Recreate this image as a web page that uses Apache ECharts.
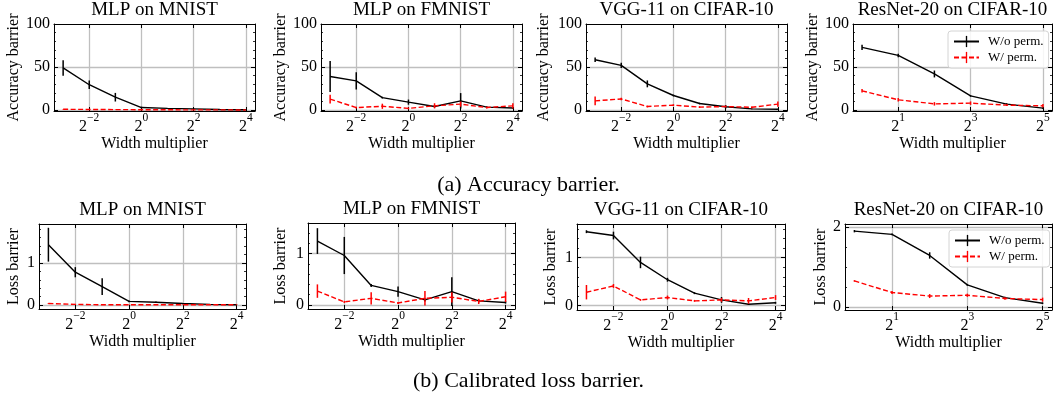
<!DOCTYPE html>
<html>
<head>
<meta charset="utf-8">
<script src="https://cdn.jsdelivr.net/npm/echarts@6/dist/echarts.min.js"></script>
<style>
  html, body { margin: 0; padding: 0; background: #fff; }
  #chart { width: 1057px; height: 395px; }
</style>
</head>
<body>
<div id="chart"></div>
<script>
const FONT = 'Liberation Serif';

// Width multipliers on the x axis
const widthsSmall = [0.125, 0.25, 0.5, 1, 2, 4, 8, 16];
const widthsResNet = [1, 2, 4, 8, 16, 32];

const panelTitles = ['MLP on MNIST', 'MLP on FMNIST', 'VGG-11 on CIFAR-10', 'ResNet-20 on CIFAR-10'];
const seriesNames = ['W/o perm.', 'W/ perm.'];
const captions = ['(a) Accuracy barrier.', '(b) Calibrated loss barrier.'];

// Tick positions (x given as powers of two)
const xTickExpSmall = [-2, 0, 2, 4];
const xTickExpResNet = [1, 3, 5];
const accTicks = [0, 50, 100];
const accMinorTicks = [10, 20, 30, 40, 60, 70, 80, 90];
const lossTicks = [0, 1];
const lossMinorTicks = [0.2, 0.4, 0.6, 0.8, 1.2, 1.4, 1.6, 1.8];
const lossTicksResNet = [0, 2];
const lossMinorTicksResNet = [0.5, 1, 1.5];

// Accuracy barrier (%), mean and error
const accMnistWo = [49, 29.5, 15, 3, 2, 1.5, 0.8, 0.5];
const accMnistWoErr = [9, 5, 5, 1, 0.5, 0.3, 0.2, 0.2];
const accMnistW = [1, 0.8, 0.6, 0.5, 0.4, 0.3, 0.3, 0.2];
const accMnistWErr = [0.3, 0.2, 0.2, 0.2, 0.1, 0.1, 0.1, 0.1];

const accFmnistWo = [39, 34, 14.5, 9.3, 4.2, 10.8, 3.5, 2.5];
const accFmnistWoErr = [18, 10, 1, 3, 1, 9, 1, 1];
const accFmnistW = [12.8, 3, 4.5, 2, 5, 7, 3, 5];
const accFmnistWErr = [5, 1, 3, 1, 3, 3, 1, 3];

const accVggWo = [58.5, 52, 30.5, 17, 7.7, 3.9, 1.5, 1];
const accVggWoErr = [2.5, 3, 4, 1, 1, 2, 0.5, 0.5];
const accVggW = [10.8, 13, 4.2, 5.8, 3.5, 4.2, 3.3, 7];
const accVggWErr = [5, 1.5, 1, 1, 1, 1, 1, 3];

const accResnetWo = [72.8, 63.5, 42, 16.6, 7, 2.3];
const accResnetWoErr = [3, 2, 4, 1, 1, 1];
const accResnetW = [22.4, 12, 7.3, 8.1, 5.8, 5];
const accResnetWErr = [2, 2, 2, 2, 1, 2];

// Calibrated loss barrier, mean and error
const lossMnistWo = [1.43, 0.78, 0.44, 0.09, 0.07, 0.04, 0.02, 0.01];
const lossMnistWoErr = [0.4, 0.12, 0.2, 0.02, 0.02, 0.01, 0.01, 0.005];
const lossMnistW = [0.04, 0.02, 0.01, 0.01, 0.01, 0.01, 0.01, 0.01];
const lossMnistWErr = [0.01, 0.01, 0.005, 0.005, 0.005, 0.005, 0.005, 0.005];

const lossFmnistWo = [1.24, 0.96, 0.38, 0.26, 0.1, 0.26, 0.08, 0.05];
const lossFmnistWoErr = [0.25, 0.36, 0.03, 0.1, 0.03, 0.28, 0.03, 0.02];
const lossFmnistW = [0.27, 0.06, 0.13, 0.04, 0.13, 0.15, 0.07, 0.16];
const lossFmnistWErr = [0.13, 0.02, 0.12, 0.02, 0.14, 0.1, 0.05, 0.1];

const lossVggWo = [1.54, 1.46, 0.9, 0.54, 0.26, 0.12, 0.03, 0.06];
const lossVggWoErr = [0.03, 0.08, 0.12, 0.04, 0.02, 0.06, 0.01, 0.02];
const lossVggW = [0.28, 0.41, 0.12, 0.17, 0.1, 0.12, 0.1, 0.17];
const lossVggWErr = [0.15, 0.04, 0.02, 0.04, 0.02, 0.04, 0.06, 0.05];

const lossResnetWo = [1.9, 1.82, 1.29, 0.55, 0.23, 0.09];
const lossResnetWoErr = [0.03, 0.02, 0.08, 0.02, 0.02, 0.02];
const lossResnetW = [0.65, 0.36, 0.27, 0.29, 0.21, 0.18];
const lossResnetWErr = [0.02, 0.04, 0.05, 0.04, 0.03, 0.05];

// Panel layout: plot rectangles, limits and tick sets
const panels = [
  { rect: [54, 24, 201, 87], title: panelTitles[0], widths: widthsSmall, xTicks: xTickExpSmall,
    wo: accMnistWo, woErr: accMnistWoErr, w: accMnistW, wErr: accMnistWErr,
    yLabels: accTicks, yGrid: [0, 50], yMinor: accMinorTicks, ylim: [-1, 100], yName: 'Accuracy barrier', nameGap: 32 },
  { rect: [321, 24, 201, 87], title: panelTitles[1], widths: widthsSmall, xTicks: xTickExpSmall,
    wo: accFmnistWo, woErr: accFmnistWoErr, w: accFmnistW, wErr: accFmnistWErr,
    yLabels: accTicks, yGrid: [0, 50], yMinor: accMinorTicks, ylim: [-1, 100], yName: 'Accuracy barrier', nameGap: 32 },
  { rect: [586, 24, 201, 87], title: panelTitles[2], widths: widthsSmall, xTicks: xTickExpSmall,
    wo: accVggWo, woErr: accVggWoErr, w: accVggW, wErr: accVggWErr,
    yLabels: accTicks, yGrid: [0, 50], yMinor: accMinorTicks, ylim: [-1, 100], yName: 'Accuracy barrier', nameGap: 34 },
  { rect: [853, 24, 199, 87], title: panelTitles[3], widths: widthsResNet, xTicks: xTickExpResNet,
    wo: accResnetWo, woErr: accResnetWoErr, w: accResnetW, wErr: accResnetWErr,
    yLabels: accTicks, yGrid: [0, 50], yMinor: accMinorTicks, ylim: [-1, 100], yName: 'Accuracy barrier', nameGap: 29 },
  { rect: [39, 224, 207, 85], title: panelTitles[0], widths: widthsSmall, xTicks: xTickExpSmall,
    wo: lossMnistWo, woErr: lossMnistWoErr, w: lossMnistW, wErr: lossMnistWErr,
    yLabels: lossTicks, yGrid: lossTicks, yMinor: lossMinorTicks, ylim: [-0.09, 1.92], yName: 'Loss barrier', nameGap: 17 },
  { rect: [308, 223, 207, 86], title: panelTitles[1], widths: widthsSmall, xTicks: xTickExpSmall,
    wo: lossFmnistWo, woErr: lossFmnistWoErr, w: lossFmnistW, wErr: lossFmnistWErr,
    yLabels: lossTicks, yGrid: lossTicks, yMinor: lossMinorTicks, ylim: [-0.077, 1.59], yName: 'Loss barrier', nameGap: 19 },
  { rect: [577, 224, 208, 86], title: panelTitles[2], widths: widthsSmall, xTicks: xTickExpSmall,
    wo: lossVggWo, woErr: lossVggWoErr, w: lossVggW, wErr: lossVggWErr,
    yLabels: lossTicks, yGrid: lossTicks, yMinor: lossMinorTicks, ylim: [-0.09, 1.70], yName: 'Loss barrier', nameGap: 18 },
  { rect: [845, 224, 207, 86], title: panelTitles[3], widths: widthsResNet, xTicks: xTickExpResNet,
    wo: lossResnetWo, woErr: lossResnetWoErr, w: lossResnetW, wErr: lossResnetWErr,
    yLabels: lossTicksResNet, yGrid: lossTicksResNet, yMinor: lossMinorTicksResNet, ylim: [-0.08, 2.08], yName: 'Loss barrier', nameGap: 16 }
];

const BLACK = '#000000';
const RED = '#ff0000';
const GRID_COLOR = '#bfbfbf';
// Legend marker: a thin vertical bar (error-bar style) inside a square box
const BAR_SYMBOL = 'path://M0,0L0,0M10,0L10,0M4.4,0L5.6,0L5.6,10L4.4,10Z';

const grids = [], xAxes = [], yAxes = [], series = [];

const supLabel = v => '{b|2}{s|' + (v < 0 ? '\u2212' + (-v) : String(v)) + '}';

function hiddenAxisBase(extra) {
  return Object.assign({
    type: 'value', axisLabel: { show: false }, splitLine: { show: false },
    axisLine: { show: false, onZero: false }, axisTick: { show: false }, silent: true
  }, extra);
}

panels.forEach((p, gi) => {
  grids.push({ left: p.rect[0], top: p.rect[1], width: p.rect[2], height: p.rect[3], show: false });

  const xs = p.widths.map(w => Math.log2(w));
  const span = xs[xs.length - 1] - xs[0];
  const xmin = xs[0] - 0.05 * span, xmax = xs[xs.length - 1] + 0.05 * span;

  const xMain = xAxes.length;
  // bottom axis: labels, major ticks, vertical grid lines
  xAxes.push(hiddenAxisBase({
    gridIndex: gi, position: 'bottom', min: xmin, max: xmax,
    axisLine: { show: true, onZero: false, lineStyle: { color: BLACK, width: 1 } },
    axisTick: { show: true, inside: true, length: 4, customValues: p.xTicks, lineStyle: { color: BLACK, width: 1 } },
    axisLabel: {
      show: true, customValues: p.xTicks, margin: 1, formatter: supLabel,
      rich: {
        b: { fontFamily: FONT, fontSize: 16, lineHeight: 23, verticalAlign: 'bottom', color: BLACK },
        s: { fontFamily: FONT, fontSize: 11.5, lineHeight: 8, verticalAlign: 'top', color: BLACK }
      }
    },
    splitLine: { show: true, lineStyle: { color: GRID_COLOR, width: 1.3 } },
    name: 'Width multiplier', nameLocation: 'middle', nameGap: 22,
    nameTextStyle: { fontFamily: FONT, fontSize: 16, color: BLACK }
  }));
  // top axis: frame, ticks and panel title
  xAxes.push(hiddenAxisBase({
    gridIndex: gi, position: 'top', min: xmin, max: xmax,
    axisLine: { show: true, onZero: false, lineStyle: { color: BLACK, width: 1 } },
    axisTick: { show: true, inside: true, length: 4, customValues: p.xTicks, lineStyle: { color: BLACK, width: 1 } },
    name: p.title, nameLocation: 'middle', nameGap: 4,
    nameTextStyle: { fontFamily: FONT, fontSize: 19, color: BLACK }
  }));

  const yMain = yAxes.length;
  const [ymin, ymax] = p.ylim;
  // left axis: labels, major ticks, horizontal grid lines
  yAxes.push(hiddenAxisBase({
    gridIndex: gi, position: 'left', min: ymin, max: ymax,
    axisLine: { show: true, onZero: false, lineStyle: { color: BLACK, width: 1 } },
    axisTick: { show: true, inside: true, length: 4, customValues: p.yGrid, lineStyle: { color: BLACK, width: 1 } },
    axisLabel: { show: true, customValues: p.yLabels, margin: 4, fontFamily: FONT, fontSize: 16, color: BLACK },
    splitLine: { show: true, lineStyle: { color: GRID_COLOR, width: 1.3 } },
    name: p.yName, nameLocation: 'middle', nameGap: p.nameGap,
    nameTextStyle: { fontFamily: FONT, fontSize: 16, color: BLACK }
  }));
  // left minor ticks
  yAxes.push(hiddenAxisBase({
    gridIndex: gi, position: 'left', min: ymin, max: ymax,
    axisTick: { show: true, inside: true, length: 2, customValues: p.yMinor, lineStyle: { color: BLACK, width: 0.8 } }
  }));
  // right frame with major and minor ticks
  yAxes.push(hiddenAxisBase({
    gridIndex: gi, position: 'right', min: ymin, max: ymax,
    axisLine: { show: true, onZero: false, lineStyle: { color: BLACK, width: 1 } },
    axisTick: { show: true, inside: true, length: 4, customValues: p.yLabels, lineStyle: { color: BLACK, width: 1 } }
  }));
  yAxes.push(hiddenAxisBase({
    gridIndex: gi, position: 'right', min: ymin, max: ymax,
    axisTick: { show: true, inside: true, length: 2, customValues: p.yMinor, lineStyle: { color: BLACK, width: 0.8 } }
  }));

  const lines = [
    { name: seriesNames[0], vals: p.wo, errs: p.woErr, color: BLACK, type: 'solid' },
    { name: seriesNames[1], vals: p.w, errs: p.wErr, color: RED, type: [5, 2.5] }
  ];
  lines.forEach((l, k) => {
    series.push({
      type: 'line', name: l.name, xAxisIndex: xMain, yAxisIndex: yMain,
      data: xs.map((x, i) => [x, l.vals[i]]),
      symbol: BAR_SYMBOL, showSymbol: false, silent: true, z: 3 + k,
      lineStyle: { color: l.color, width: 1.4, type: l.type },
      itemStyle: { color: l.color }
    });
    series.push({
      type: 'custom', name: l.name + ' error', xAxisIndex: xMain, yAxisIndex: yMain,
      data: xs.map((x, i) => [x, l.vals[i] - l.errs[i], l.vals[i] + l.errs[i]]),
      silent: true, z: 3 + k,
      renderItem: (params, api) => {
        const a = api.coord([api.value(0), api.value(1)]);
        const b = api.coord([api.value(0), api.value(2)]);
        return {
          type: 'line',
          shape: { x1: a[0], y1: a[1], x2: b[0], y2: b[1] },
          style: { stroke: l.color, lineWidth: 1.5 }
        };
      }
    });
  });
});

const legendBase = {
  orient: 'vertical', padding: [4, 5, 4, 5], itemWidth: 25, itemHeight: 14, itemGap: 3,
  backgroundColor: 'rgba(255,255,255,0.85)', borderColor: '#d4d4d4', borderWidth: 1, borderRadius: 3,
  textStyle: { fontFamily: FONT, fontSize: 13, color: BLACK, padding: [0, 0, 0, 4] },
  data: seriesNames, selectedMode: false
};

const option = {
  animation: false,
  backgroundColor: '#ffffff',
  title: [
    { text: captions[0], left: 'center', top: 169, textStyle: { fontFamily: FONT, fontSize: 22, fontWeight: 'normal', color: BLACK } },
    { text: captions[1], left: 'center', top: 365, textStyle: { fontFamily: FONT, fontSize: 22, fontWeight: 'normal', color: BLACK } }
  ],
  legend: [
    Object.assign({ left: 948, top: 31 }, legendBase),
    Object.assign({ left: 949, top: 230 }, legendBase)
  ],
  grid: grids,
  xAxis: xAxes,
  yAxis: yAxes,
  series: series
};

const chart = echarts.init(document.getElementById('chart'));
chart.setOption(option);
</script>
</body>
</html>
